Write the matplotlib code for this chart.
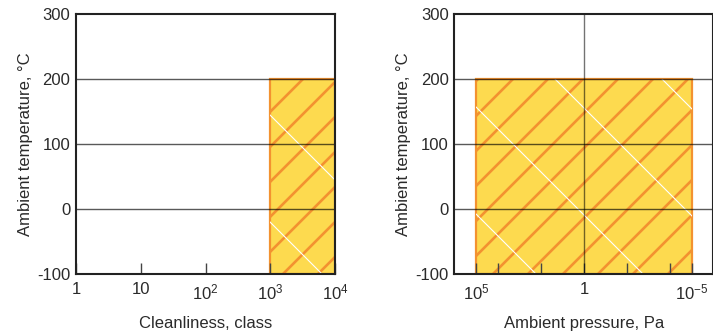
import matplotlib
matplotlib.use("Agg")
import matplotlib.pyplot as plt
import numpy as np
from matplotlib.patches import Rectangle
from matplotlib.transforms import IdentityTransform

plt.rcParams['font.family'] = ['Liberation Sans', 'DejaVu Sans']
plt.rcParams['mathtext.fontset'] = 'custom'
plt.rcParams['mathtext.rm'] = 'Liberation Sans'
plt.rcParams['mathtext.it'] = 'Liberation Sans'
plt.rcParams['axes.unicode_minus'] = False

# operating window
cleanliness_range = [1e3, 1e4]
pressure_range = [1e5, 1e-5]
temperature_range = [-100, 200]

# axes
temp_ticks = [-100, 0, 100, 200, 300]
temp_grid = [0, 100, 200]
clean_ticks = [1, 10, 1e2, 1e3, 1e4]
clean_labels = ['1', '10', '10$^2$', '10$^3$', '10$^4$']
press_ticks = [1e5, 1, 1e-5]
press_labels = ['10$^5$', '1', '10$^{\u22125}$']
press_minor = [1e4, 1e2, 1e-2, 1e-4]
press_ref = 1

FILL = '#fdda4f'
ORANGE = '#f39230'
TXT = '#2a2a2a'


def hatch(ax, patch, spacing, sign, color, lw, phase=0):
    # diagonal lines in pixel space, clipped to the patch
    fig = ax.figure
    W, H = fig.bbox.width, fig.bbox.height
    span = W + H
    for c in np.arange(-span, span, spacing) + phase:
        xs = np.array([-H, W + H])
        ys = sign * (xs - c)
        ln = ax.plot(xs, ys, color=color, lw=lw, transform=IdentityTransform(),
                     zorder=1.5, solid_capstyle='butt')[0]
        ln.set_clip_path(patch)


def panel(ax, xr, xlim):
    ax.set_xscale('log')
    ax.set_xlim(*xlim)
    ax.set_ylim(temp_ticks[0], temp_ticks[-1])
    ax.set_yticks(temp_ticks)
    ax.tick_params(axis='y', length=0, pad=4, labelsize=12, labelcolor=TXT)
    ax.tick_params(axis='x', which='both', direction='in', length=8, width=1,
                   color='#444444', pad=6, labelsize=12, labelcolor=TXT)
    rect = Rectangle((xr[0], temperature_range[0]), xr[1] - xr[0],
                     temperature_range[1] - temperature_range[0],
                     facecolor=FILL, edgecolor=ORANGE, lw=1.6, zorder=1)
    ax.add_patch(rect)
    hatch(ax, rect, 35, 1, ORANGE, 1.9, phase=10)
    hatch(ax, rect, 107, -1, 'white', 0.8, phase=40)
    for yv in temp_grid:
        ax.axhline(yv, color='black', alpha=0.65, lw=1, zorder=3)
    for s in ax.spines.values():
        s.set_color('#222222')
        s.set_linewidth(1.5)
        s.set_zorder(4)
    ax.set_ylabel('Ambient temperature, °C', fontsize=12, color=TXT, labelpad=3)


fig = plt.figure(figsize=(7.13, 3.35), dpi=100)
ax1 = fig.add_axes([0.1066, 0.1821, 0.3633, 0.776])
ax2 = fig.add_axes([0.6374, 0.1821, 0.3633, 0.776])

panel(ax1, cleanliness_range, (1, 1e4))
ax1.set_xticks(clean_ticks)
ax1.set_xticklabels(clean_labels)
ax1.xaxis.set_minor_locator(matplotlib.ticker.NullLocator())
ax1.set_xlabel('Cleanliness, class', fontsize=12, color=TXT, labelpad=10)

panel(ax2, pressure_range, (1e6, 1e-6))
ax2.set_xticks(press_ticks)
ax2.set_xticklabels(press_labels)
ax2.set_xticks(press_minor, minor=True)
ax2.set_xticklabels([], minor=True)
ax2.axvline(press_ref, color='black', alpha=0.55, lw=1, zorder=3)
ax2.set_xlabel('Ambient pressure, Pa', fontsize=12, color=TXT, labelpad=10)

fig.savefig('out.png', dpi=100)
